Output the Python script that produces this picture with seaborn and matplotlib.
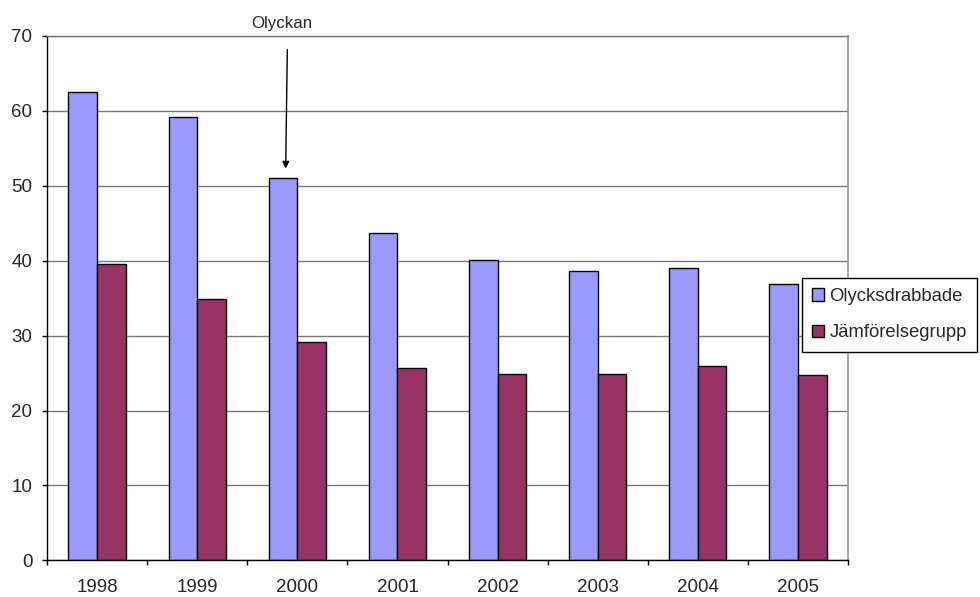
import matplotlib
matplotlib.use("Agg")
import matplotlib.pyplot as plt
import seaborn as sns
import pandas as pd
import numpy as np

years = ["1998", "1999", "2000", "2001", "2002", "2003", "2004", "2005"]
olycksdrabbade = [62.5, 59.2, 51.1, 43.7, 40.1, 38.6, 39.0, 36.9]
jamforelsegrupp = [39.5, 34.9, 29.2, 25.7, 24.9, 24.9, 26.0, 24.8]
series_names = ["Olycksdrabbade", "Jämförelsegrupp"]
colors = ["#9999FF", "#993366"]
y_ticks = [0, 10, 20, 30, 40, 50, 60, 70]
annotation_text = "Olyckan"

df = pd.DataFrame({
    "year": years * 2,
    "value": olycksdrabbade + jamforelsegrupp,
    "group": [series_names[0]] * len(years) + [series_names[1]] * len(years),
})

sns.set_style("white")
plt.rcParams["font.family"] = ["Liberation Sans", "DejaVu Sans"]

fig = plt.figure(figsize=(9.8, 5.97), dpi=100)
ax = fig.add_axes([47 / 980, 1 - 560.3 / 597, (848 - 47) / 980, (560.3 - 36) / 597])

sns.barplot(data=df, x="year", y="value", hue="group", order=years,
            hue_order=series_names, palette=colors, width=0.572,
            edgecolor="black", linewidth=1.0, saturation=1, ax=ax,
            legend=True)

ax.set_xlim(-0.5, len(years) - 0.5)
ax.set_ylim(0, 70)
ax.set_yticks(y_ticks)
ax.set_xlabel("")
ax.set_ylabel("")

ax.set_axisbelow(True)
ax.yaxis.grid(True, color="#777777", linewidth=1.0)
ax.xaxis.grid(False)

for s in ["left", "bottom"]:
    ax.spines[s].set_color("black")
    ax.spines[s].set_linewidth(1.0)
ax.spines["right"].set_color("#999999")
ax.spines["right"].set_linewidth(1.2)
ax.spines["top"].set_color("#777777")
ax.spines["top"].set_linewidth(1.0)
for s in ax.spines.values():
    s.set_visible(True)

ax.tick_params(axis="y", direction="out", length=3.6, width=1, color="black",
               labelsize=13.5, pad=7, left=True)
ax.tick_params(axis="x", which="major", length=0, labelsize=13.5, pad=13.5)
ax.set_xticks(np.arange(-0.5, len(years), 1.0), minor=True)
ax.tick_params(axis="x", which="minor", direction="out", length=3.6, width=1,
               color="black", bottom=True)

# annotation
ax.annotate("", xy=(1.884, 52.3), xytext=(1.9, 68.2),
            arrowprops=dict(arrowstyle="-|>", color="black", lw=1.0,
                            mutation_scale=10, shrinkA=0, shrinkB=0),
            annotation_clip=False)
ax.text(1.844, 71.07, annotation_text, ha="center", va="baseline",
        fontsize=12.2, clip_on=False)

handles, labels = ax.get_legend_handles_labels()
ax.legend(handles, labels, loc="upper left",
          bbox_to_anchor=(801.6 / 980, 1 - 277.8 / 597),
          bbox_transform=fig.transFigure, frameon=True, fancybox=False,
          edgecolor="black", fontsize=13.3, handlelength=0.65,
          handleheight=0.65, handletextpad=0.3, borderpad=0.55,
          labelspacing=1.05, borderaxespad=0, framealpha=1)
leg = ax.get_legend()
leg.get_frame().set_linewidth(1.0)

fig.savefig("out.png", dpi=100)
